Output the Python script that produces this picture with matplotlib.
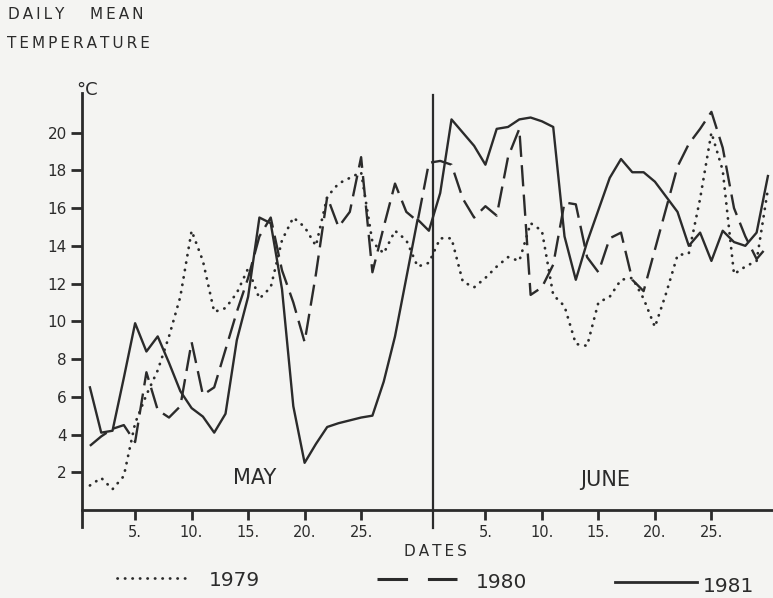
import matplotlib
matplotlib.use("Agg")
import matplotlib.pyplot as plt
from matplotlib.lines import Line2D

# daily mean temperature, deg C
may_1979 = [1.3, 1.7, 1.1, 1.8, 4.6, 6.1, 7.4, 9.2, 11.3, 14.8, 13.2, 10.5, 10.7, 11.5, 12.8, 11.2,
            11.8, 14.3, 15.5, 15.0, 14.0, 16.6, 17.3, 17.6, 17.9, 14.2, 13.6, 14.8, 14.3, 12.9, 13.1]
june_1979 = [14.4, 14.4, 12.1, 11.8, 12.3, 12.9, 13.4, 13.2, 15.2, 14.8, 11.4, 10.8, 8.8, 8.7, 11.0,
             11.3, 12.2, 12.3, 11.2, 9.7, 11.5, 13.5, 13.6, 16.5, 20.0, 18.0, 12.5, 12.9, 13.2, 17.0]

may_1980 = [3.4, 3.9, 4.3, 4.5, 3.6, 7.3, 5.3, 4.9, 5.5, 8.9, 6.1, 6.5, 8.5, 10.5, 12.3, 14.5,
            15.5, 12.7, 11.0, 8.9, 12.5, 16.6, 15.0, 15.8, 18.7, 12.6, 15.0, 17.3, 15.8, 15.3, 18.4]
june_1980 = [18.5, 18.3, 16.5, 15.5, 16.1, 15.6, 18.7, 20.2, 11.4, 11.8, 13.0, 16.3, 16.2, 13.4, 12.6,
             14.4, 14.7, 12.2, 11.6, 13.8, 16.0, 18.2, 19.4, 20.2, 21.1, 19.2, 16.0, 14.5, 13.3, 14.0]

may_1981 = [6.5, 4.1, 4.2, 7.0, 9.9, 8.4, 9.2, 7.8, 6.3, 5.4, 4.95, 4.1, 5.1, 9.0, 11.3, 15.5,
            15.2, 11.7, 5.5, 2.5, 3.5, 4.4, 4.6, 4.75, 4.9, 5.0, 6.8, 9.2, 12.3, 15.4, 14.8]
june_1981 = [16.8, 20.7, 20.0, 19.3, 18.3, 20.2, 20.3, 20.7, 20.8, 20.6, 20.3, 14.5, 12.2, 14.2, 15.9,
             17.6, 18.6, 17.9, 17.9, 17.4, 16.6, 15.8, 14.0, 14.7, 13.2, 14.8, 14.2, 14.0, 14.7, 17.7]

tick_days = [5, 10, 15, 20, 25]
y_ticks = [2, 4, 6, 8, 10, 12, 14, 16, 18, 20]

INK = "#2b2b2b"
PAPER = "#f4f4f2"
W, H = 773, 598

days = list(range(1, 32)) + [31 + d for d in range(1, 31)]

fig = plt.figure(figsize=(W / 100, H / 100), dpi=100, facecolor=PAPER)
ax = fig.add_axes([82 / W, 1 - 510 / H, (773 - 82) / W, 417 / H])
ax.set_facecolor(PAPER)

dotted = (0, (0.1, 2.6))
dashed = (0, (9, 3.5))
ax.plot(days, may_1979 + june_1979, color=INK, lw=2.0, linestyle=dotted, dash_capstyle="round")
ax.plot(days, may_1980 + june_1980, color=INK, lw=1.7, linestyle=dashed)
ax.plot(days, may_1981 + june_1981, color=INK, lw=1.7)

x0 = 0.3
ax.set_xlim(x0, x0 + 691 / 11.3)
ax.set_ylim(0, 22.1)

for s in ["top", "right", "left"]:
    ax.spines[s].set_visible(False)
ax.spines["bottom"].set_linewidth(2.0)
ax.spines["bottom"].set_color(INK)
# y axis line runs a bit below the x axis, so does the month divider
ax.axvline(x0, ymin=-0.041, ymax=1.0, color=INK, lw=2.0, clip_on=False)
ax.axvline(x0 + 351 / 11.3, ymin=-0.043, ymax=0.995, color=INK, lw=1.6, clip_on=False)

ax.set_yticks(y_ticks)
ax.set_yticklabels([str(v) for v in y_ticks])
xt = tick_days + [31 + d for d in tick_days]
ax.set_xticks(xt)
ax.set_xticklabels([f"{d}." for d in tick_days] * 2)
ax.tick_params(axis="y", direction="out", length=8, width=2.0, pad=3, labelsize=11, colors=INK)
ax.tick_params(axis="x", direction="out", length=7, width=2.0, pad=4, labelsize=10.5, colors=INK)

ts = "\u2009"
fig.text(8 / W, 1 - 19 / H, ts.join("DAILY"), fontsize=11, color=INK, va="baseline")
fig.text(90 / W, 1 - 19 / H, ts.join("MEAN"), fontsize=11, color=INK, va="baseline")
fig.text(7 / W, 1 - 48 / H, ts.join("TEMPERATURE"), fontsize=11, color=INK, va="baseline")
fig.text(76 / W, 1 - 95 / H, "°C", fontsize=13, color=INK, va="baseline")

ax.text(15.6, 1.4, "MAY", fontsize=15, color=INK, ha="center", va="baseline")
ax.text(46.6, 1.25, "JUNE", fontsize=15, color=INK, ha="center", va="baseline")
fig.text(435 / W, 1 - 552 / H, ts.join("DATES"), fontsize=11, color=INK, ha="center", va="center")

# hand-made legend row under the axis
def fy(y):
    return 1 - y / H

fig.add_artist(Line2D([117 / W, 192 / W], [fy(578)] * 2, color=INK, lw=2.0,
                      linestyle=dotted, dash_capstyle="round"))
fig.text(209 / W, fy(580), "1979", fontsize=14.5, color=INK, va="center")
fig.add_artist(Line2D([377 / W, 457 / W], [fy(579)] * 2, color=INK, lw=2.2,
                      linestyle=(0, (10, 6.5))))
fig.text(476 / W, fy(582), "1980", fontsize=14.5, color=INK, va="center")
fig.add_artist(Line2D([615 / W, 697 / W], [fy(582)] * 2, color=INK, lw=2.0))
fig.text(703 / W, fy(586), "1981", fontsize=14.5, color=INK, va="center")

fig.savefig("out.png", dpi=100, facecolor=PAPER)
